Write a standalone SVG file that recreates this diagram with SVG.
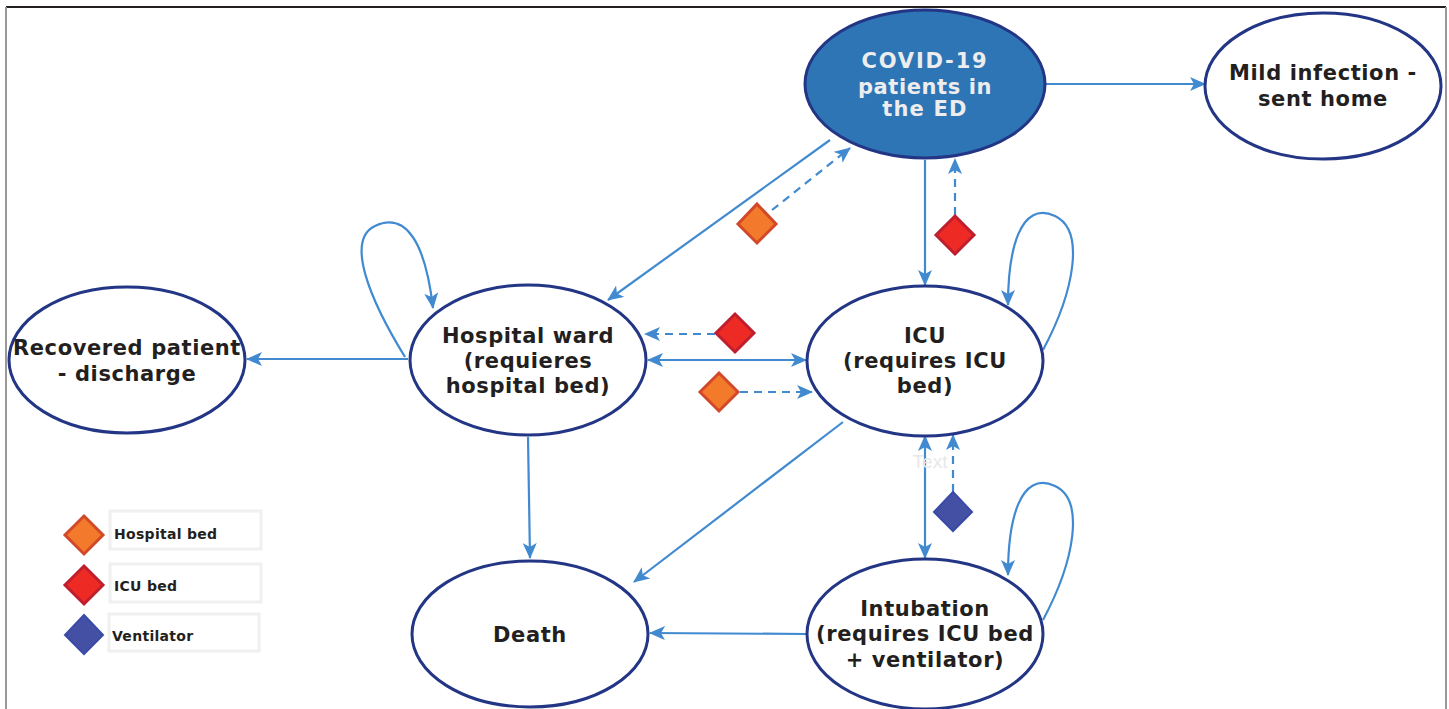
<svg xmlns="http://www.w3.org/2000/svg" width="1449" height="709" viewBox="0 0 1449 709">
<style>
.node{fill:#fff;stroke:#233585;stroke-width:3}
.lbl{font-family:"DejaVu Sans",Verdana,sans-serif;font-weight:bold;font-size:21px;letter-spacing:0.6px;fill:#231F20;text-anchor:middle}
.conn{fill:none;stroke:#418AD0;stroke-width:2.2}
.dash{stroke-dasharray:8 6}
.orange{fill:#F37A2A;stroke:#D2492A;stroke-width:3}
.red{fill:#EE2A24;stroke:#BE1E2D;stroke-width:3}
.blue{fill:#4450A4;stroke:#3A4AA8;stroke-width:2}
.leg{fill:#fff;stroke:#F0F0F0;stroke-width:3}
.legt{font-family:"DejaVu Sans",Verdana,sans-serif;font-weight:bold;font-size:14px;letter-spacing:0.3px;fill:#231F20}
</style>
<defs>
<marker id="ah" viewBox="0 0 16 14" refX="15" refY="7" markerWidth="16" markerHeight="14" markerUnits="userSpaceOnUse" orient="auto-start-reverse">
<path d="M0,0 L16,7 L0,14 L4,7 z" fill="#418AD0"/>
</marker>
</defs>
<rect width="1449" height="709" fill="#fff"/>
<g id="frame">
<line x1="6" y1="7" x2="1446" y2="7" stroke="#231F20" stroke-width="2"/>
<line x1="6" y1="7" x2="6" y2="709" stroke="#999" stroke-width="2"/>
<line x1="1446" y1="7" x2="1446" y2="709" stroke="#999" stroke-width="2"/>
</g>
<g id="connectors">
<line class="conn" x1="1045" y1="84" x2="1205" y2="84" marker-end="url(#ah)"/>
<line class="conn" x1="830" y1="140" x2="608" y2="300" marker-end="url(#ah)"/>
<line class="conn dash" x1="772" y1="210" x2="850" y2="148" marker-end="url(#ah)"/>
<line class="conn" x1="925" y1="160" x2="925" y2="285" marker-end="url(#ah)"/>
<line class="conn dash" x1="955" y1="215" x2="955" y2="159" marker-end="url(#ah)"/>
<path class="conn" d="M1043,350 C1075,290 1085,230 1055,216 C1020,200 1008,250 1008,305" marker-end="url(#ah)"/>
<path class="conn" d="M405,357 C370,300 345,240 375,226 C405,212 425,240 433,308" marker-end="url(#ah)"/>
<line class="conn" x1="408" y1="359" x2="247" y2="359" marker-end="url(#ah)"/>
<line class="conn dash" x1="715" y1="334" x2="645" y2="334" marker-end="url(#ah)"/>
<line class="conn" x1="648" y1="360" x2="806" y2="360" marker-start="url(#ah)" marker-end="url(#ah)"/>
<line class="conn dash" x1="740" y1="392" x2="812" y2="392" marker-end="url(#ah)"/>
<line class="conn" x1="528" y1="437" x2="530" y2="558" marker-end="url(#ah)"/>
<line class="conn" x1="843" y1="422" x2="634" y2="582" marker-end="url(#ah)"/>
<line class="conn" x1="925" y1="436" x2="925" y2="558" marker-start="url(#ah)" marker-end="url(#ah)"/>
<line class="conn dash" x1="953" y1="492" x2="953" y2="435" marker-end="url(#ah)"/>
<path class="conn" d="M1043,620 C1075,560 1085,500 1055,486 C1020,470 1008,520 1008,575" marker-end="url(#ah)"/>
<line class="conn" x1="806" y1="634" x2="650" y2="633" marker-end="url(#ah)"/>
</g>
<g id="covid">
<ellipse cx="925" cy="84" rx="120" ry="74" fill="#2E75B6" stroke="#233585" stroke-width="3"/>
<text class="lbl" style="fill:#EDEDED;letter-spacing:1.8px" x="925" y="68">COVID-19</text>
<text class="lbl" style="fill:#EDEDED" x="925" y="94">patients in</text>
<text class="lbl" style="fill:#EDEDED;letter-spacing:1.2px" x="925" y="116">the ED</text>
</g>
<g id="mild">
<ellipse class="node" cx="1323" cy="86" rx="118" ry="73"/>
<text class="lbl" x="1323" y="80">Mild infection -</text>
<text class="lbl" x="1323" y="106">sent home</text>
</g>
<g id="ward">
<ellipse class="node" cx="528" cy="360" rx="118" ry="75"/>
<text class="lbl" x="528" y="343">Hospital ward</text>
<text class="lbl" x="528" y="368">(requieres</text>
<text class="lbl" x="528" y="393">hospital bed)</text>
</g>
<g id="icu">
<ellipse class="node" cx="925" cy="361" rx="118" ry="75"/>
<text class="lbl" x="925" y="343">ICU</text>
<text class="lbl" x="925" y="368">(requires ICU</text>
<text class="lbl" x="925" y="393">bed)</text>
</g>
<g id="recovered">
<ellipse class="node" cx="127" cy="360" rx="118" ry="73"/>
<text class="lbl" x="127" y="355">Recovered patient</text>
<text class="lbl" x="127" y="381">- discharge</text>
</g>
<g id="death">
<ellipse class="node" cx="530" cy="634" rx="118" ry="73"/>
<text class="lbl" x="530" y="642">Death</text>
</g>
<g id="intubation">
<ellipse class="node" cx="925" cy="634" rx="118" ry="75"/>
<text class="lbl" x="925" y="616">Intubation</text>
<text class="lbl" x="925" y="641">(requires ICU bed</text>
<text class="lbl" x="925" y="667">+ ventilator)</text>
</g>
<g id="resources">
<path class="orange" d="M757,204 L776,224 L757,243 L738,224 Z"/>
<path class="red" d="M955,216 L974,235 L955,254 L936,235 Z"/>
<path class="red" d="M735,314 L754,333 L735,352 L716,333 Z"/>
<path class="orange" d="M719,373 L738,392 L719,411 L700,392 Z"/>
<path class="blue" d="M953,492 L972,512 L953,531 L934,512 Z"/>
<text x="930" y="468" font-family="Liberation Sans,Arial,sans-serif" font-size="19" fill="#E8E8E8" text-anchor="middle">Text</text>
</g>
<g id="legend">
<rect class="leg" x="110" y="511" width="151" height="38"/>
<rect class="leg" x="110" y="564" width="151" height="38"/>
<rect class="leg" x="109" y="614" width="150" height="37"/>
<path class="orange" d="M84,516 L103,535 L84,554 L65,535 Z"/>
<path class="red" d="M84,566 L103,585 L84,604 L65,585 Z"/>
<path class="blue" d="M84,615 L103,635 L84,654 L65,635 Z"/>
<text class="legt" x="114" y="539">Hospital bed</text>
<text class="legt" x="114" y="591">ICU bed</text>
<text class="legt" x="112" y="641">Ventilator</text>
</g>
</svg>
